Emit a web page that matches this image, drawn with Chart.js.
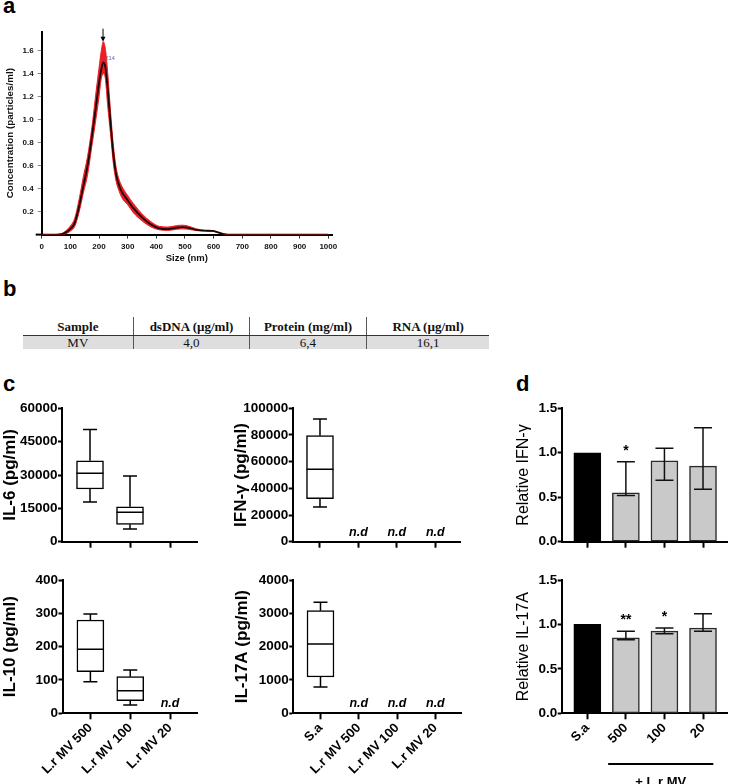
<!DOCTYPE html>
<html><head><meta charset="utf-8">
<script src="https://cdn.jsdelivr.net/npm/chart.js@4.4.1/dist/chart.umd.min.js"></script>
<style>
html,body{margin:0;padding:0;background:#fff;}
#wrap{position:relative;width:729px;height:784px;overflow:hidden;background:#fff;}
canvas.layer{position:absolute;left:0;top:0;}
.plabel{position:absolute;font:bold 22px 'Liberation Sans',Arial,sans-serif;line-height:22px;color:#000;}
#tbl{position:absolute;left:22.7px;top:317px;border-collapse:collapse;table-layout:fixed;font-family:'Liberation Serif','Times New Roman',serif;font-size:13px;color:#111;}
#tbl th{font-weight:bold;line-height:16px;padding:2px 0 0 0;text-align:center;border-bottom:1px solid #333;}
#tbl td{line-height:13px;padding:0;text-align:center;background:#dedede;}
#tbl .sep{border-left:1px solid #555;}
</style></head><body>
<div id="wrap">
  <div class="plabel" style="left:3px;top:-4.6px">a</div>
  <div class="plabel" style="left:3px;top:278px">b</div>
  <div class="plabel" style="left:3px;top:373px">c</div>
  <div class="plabel" style="left:516px;top:373px">d</div>
  <table id="tbl"><tbody></tbody></table>
  <canvas id="cA" class="layer" width="729" height="784"></canvas>
  <canvas id="cIL6" class="layer" width="729" height="784"></canvas>
  <canvas id="cIFN" class="layer" width="729" height="784"></canvas>
  <canvas id="cIL10" class="layer" width="729" height="784"></canvas>
  <canvas id="cIL17" class="layer" width="729" height="784"></canvas>
  <canvas id="cRIFN" class="layer" width="729" height="784"></canvas>
  <canvas id="cRIL17" class="layer" width="729" height="784"></canvas>
</div>
<script>
// ---------- DATA ----------
// panel a: nanoparticle size distribution
const nanoSizes = [0,50,70,85,100,115,130,145,160,175,190,200,208,215,222,230,240,250,260,270,280,300,320,350,380,410,440,470,490,510,540,570,595,615,635,660,1000];
const nanoMean  = [0,0,0.003,0.02,0.05,0.1,0.24,0.42,0.6,0.85,1.13,1.32,1.44,1.50,1.46,1.28,0.98,0.70,0.52,0.43,0.37,0.30,0.23,0.15,0.09,0.055,0.048,0.06,0.065,0.06,0.042,0.034,0.032,0.02,0.005,0,0];
const nanoUpper = [0,0,0.01,0.035,0.075,0.14,0.3,0.5,0.68,0.93,1.25,1.45,1.6,1.68,1.62,1.42,1.08,0.78,0.58,0.48,0.42,0.34,0.27,0.18,0.115,0.072,0.066,0.078,0.082,0.075,0.05,0.036,0.034,0.021,0.006,0,0];
const nanoLower = [0,0,0,0.008,0.03,0.07,0.19,0.36,0.52,0.77,1.02,1.2,1.36,1.40,1.36,1.13,0.88,0.62,0.46,0.38,0.32,0.26,0.19,0.12,0.068,0.042,0.036,0.046,0.05,0.047,0.035,0.031,0.03,0.018,0.004,0,0];
const nanoPeak = 214;
const nanoXTicks = [0,100,200,300,400,500,600,700,800,900,1000];
const nanoYTicks = [0.2,0.4,0.6,0.8,1.0,1.2,1.4,1.6];

// panel b: table
const tableHeaders = ['Sample','dsDNA (\u00b5g/ml)','Protein (mg/ml)','RNA (\u00b5g/ml)'];
const tableRow = ['MV','4,0','6,4','16,1'];

// panel c: box plots
const mvGroups = ['L.r MV 500','L.r MV 100','L.r MV 20'];
const saGroups = ['S.a','L.r MV 500','L.r MV 100','L.r MV 20'];
const il6Min = [17900, 5700, null];
const il6Q1 = [23700, 7800, null];
const il6Median = [30800, 13200, null];
const il6Q3 = [36400, 15700, null];
const il6Max = [50500, 29500, null];
const il6NotDetected = [false, false, false];
const il6Ticks = [0,15000,30000,45000,60000];
const ifngMin = [26000, null, null, null];
const ifngQ1 = [32250, null, null, null];
const ifngMedian = [54250, null, null, null];
const ifngQ3 = [79500, null, null, null];
const ifngMax = [92000, null, null, null];
const ifngNotDetected = [false, true, true, true];
const ifngTicks = [0,20000,40000,60000,80000,100000];
const il10Min = [95, 25, null];
const il10Q1 = [125, 38, null];
const il10Median = [192, 68, null];
const il10Q3 = [280, 110, null];
const il10Max = [298, 130, null];
const il10NotDetected = [false, false, true];
const il10Ticks = [0,100,200,300,400];
const il17Min = [790, null, null, null];
const il17Q1 = [1090, null, null, null];
const il17Median = [2080, null, null, null];
const il17Q3 = [3080, null, null, null];
const il17Max = [3330, null, null, null];
const il17NotDetected = [false, true, true, true];
const il17Ticks = [0,1000,2000,3000,4000];

// panel d: relative bars
const relGroups = ['S.a','500','100','20'];
const relIfngMean = [1.0, 0.55, 0.91, 0.85];
const relIfngLow  = [1.0, 0.52, 0.69, 0.59];
const relIfngHigh = [1.0, 0.90, 1.05, 1.28];
const relIfngSig  = ['', '*', '', ''];
const relIl17Mean = [1.0, 0.85, 0.925, 0.96];
const relIl17Low  = [1.0, 0.828, 0.896, 0.922];
const relIl17High = [1.0, 0.922, 0.959, 1.12];
const relIl17Sig  = ['', '**', '*', ''];
const relTicks = [0, 0.5, 1.0, 1.5];
const relBracketLabel = '+ L.r MV';

// ---------- RENDER ----------
const W = 729, H = 784;
const FF = "'Liberation Sans', Arial, Helvetica, sans-serif";

// table
(function(){
  const tb = document.querySelector('#tbl tbody');
  const widths = [110.3, 115, 116, 122.3];
  const tr1 = document.createElement('tr');
  tableHeaders.forEach((h,i)=>{ const th=document.createElement('th'); th.textContent=h; th.style.width=widths[i]+'px'; if(i>0) th.className='sep'; tr1.appendChild(th); });
  const tr2 = document.createElement('tr');
  tableRow.forEach((v,i)=>{ const td=document.createElement('td'); td.textContent=v; if(i>0) td.className='sep'; tr2.appendChild(td); });
  tb.appendChild(tr1); tb.appendChild(tr2);
})();

const nanoPlugin = {
  id: 'nanoExtras',
  afterDraw(chart) {
    const {ctx, chartArea} = chart;
    const xs = chart.scales.x;
    ctx.save();
    ctx.strokeStyle = '#000'; ctx.lineWidth = 2;
    ctx.beginPath(); ctx.moveTo(chartArea.left - 6, chartArea.bottom); ctx.lineTo(chartArea.left, chartArea.bottom); ctx.stroke();
    const px = xs.getPixelForValue(nanoPeak);
    ctx.lineWidth = 1;
    ctx.beginPath(); ctx.moveTo(px, chartArea.top - 3); ctx.lineTo(px, chartArea.top + 8); ctx.stroke();
    ctx.fillStyle = '#000';
    ctx.beginPath(); ctx.moveTo(px - 2.5, chartArea.top + 5); ctx.lineTo(px + 2.5, chartArea.top + 5); ctx.lineTo(px, chartArea.top + 10); ctx.closePath(); ctx.fill();
    ctx.fillStyle = '#5565b5';
    ctx.font = '5.5px ' + FF; ctx.textAlign = 'left'; ctx.textBaseline = 'middle';
    ctx.fillText(String(nanoPeak), px + 2.5, chartArea.top + 27);
    ctx.restore();
  }
};

const RED = 'rgb(236,30,36)';
new Chart(document.getElementById('cA'), {
  type: 'line',
  data: { datasets: [
    { data: nanoSizes.map((s,i)=>({x:s, y:nanoUpper[i]})), borderColor: RED, backgroundColor: RED, borderWidth: 1, pointRadius: 0, fill: '+1', cubicInterpolationMode: 'monotone', order: 2 },
    { data: nanoSizes.map((s,i)=>({x:s, y:nanoLower[i]})), borderColor: RED, backgroundColor: RED, borderWidth: 1, pointRadius: 0, fill: false, cubicInterpolationMode: 'monotone', order: 1 },
    { data: nanoSizes.map((s,i)=>({x:s, y:nanoMean[i]})), borderColor: '#1a0606', borderWidth: 1.8, pointRadius: 0, fill: false, cubicInterpolationMode: 'monotone', order: 0 }
  ]},
  plugins: [nanoPlugin],
  options: {
    responsive: false, animation: false, events: [],
    layout: { autoPadding: false, padding: { left: 4, top: 31.7, right: W - 332, bottom: H - 234.6 - 30 } },
    plugins: { legend: { display: false }, tooltip: { enabled: false } },
    scales: {
      x: { type: 'linear', min: 0, max: 1013, bounds: 'data',
        afterBuildTicks: s => { s.ticks = nanoXTicks.map(v => ({value: v})); },
        afterFit: s => { s.height = 30; s.paddingLeft = 0; s.paddingRight = 0; },
        ticks: { color: '#111', font: { family: FF, size: 8, weight: 'bold' }, padding: 3.3, maxRotation: 0, autoSkip: false, callback: v => String(v) },
        grid: { display: true, drawOnChartArea: false, tickLength: 4, tickColor: '#333', tickWidth: 1 },
        border: { display: true, color: '#000', width: 2 },
        title: { display: true, text: 'Size (nm)', color: '#111', font: { family: FF, size: 9.5, weight: 'bold' }, padding: { top: 0, bottom: 0.5 } }
      },
      y: { type: 'linear', min: 0, max: 1.767, bounds: 'data',
        afterBuildTicks: s => { s.ticks = nanoYTicks.map(v => ({value: v})); },
        afterFit: s => { s.width = 37.7; s.paddingTop = 0; s.paddingBottom = 0; },
        ticks: { color: '#111', font: { family: FF, size: 8, weight: 'bold' }, padding: 4, callback: v => v.toFixed(1) },
        grid: { display: true, drawOnChartArea: false, tickLength: 4, tickColor: '#888', tickWidth: 1 },
        border: { display: true, color: '#000', width: 2 },
        title: { display: true, text: 'Concentration (particles/ml)', color: '#111', font: { family: FF, size: 9.8, weight: 'bold' }, padding: { top: 0.3, bottom: 0 } }
      }
    }
  }
});

function boxPlugin(groups, mn, q1, med, q3, mx, nd) {
  return { id: 'boxWhiskers', afterDatasetsDraw(chart) {
    const {ctx} = chart; const xs = chart.scales.x, ys = chart.scales.y;
    const Y = v => ys.getPixelForValue(v);
    ctx.save(); ctx.strokeStyle = '#000'; ctx.lineWidth = 1.5;
    groups.forEach((g, i) => {
      const px = xs.getPixelForValue(i + 1);
      if (nd[i]) {
        ctx.fillStyle = '#000'; ctx.font = 'italic bold 12.5px ' + FF; ctx.textAlign = 'center'; ctx.textBaseline = 'alphabetic';
        ctx.fillText('n.d', px, Y(0) - 6);
      }
      if (med[i] == null) return;
      ctx.beginPath();
      ctx.moveTo(px, Y(mx[i])); ctx.lineTo(px, Y(q3[i]));
      ctx.moveTo(px, Y(q1[i])); ctx.lineTo(px, Y(mn[i]));
      ctx.moveTo(px - 7, Y(mx[i])); ctx.lineTo(px + 7, Y(mx[i]));
      ctx.moveTo(px - 7, Y(mn[i])); ctx.lineTo(px + 7, Y(mn[i]));
      ctx.moveTo(px - 13.5, Y(med[i])); ctx.lineTo(px + 13.5, Y(med[i]));
      ctx.stroke();
    });
    ctx.restore();
  }};
}

function errPlugin(lo, hi, sig) {
  return { id: 'errBars', afterDatasetsDraw(chart) {
    const {ctx} = chart; const xs = chart.scales.x, ys = chart.scales.y;
    ctx.save(); ctx.strokeStyle = '#111'; ctx.lineWidth = 1.5;
    lo.forEach((l, i) => {
      const px = xs.getPixelForValue(i + 1);
      const top = ys.getPixelForValue(hi[i]);
      const bot = ys.getPixelForValue(l);
      if (hi[i] > l) {
        ctx.beginPath();
        ctx.moveTo(px, bot); ctx.lineTo(px, top);
        ctx.moveTo(px - 9, top); ctx.lineTo(px + 9, top);
        ctx.moveTo(px - 9, bot); ctx.lineTo(px + 9, bot);
        ctx.stroke();
      }
      if (sig[i]) {
        ctx.fillStyle = '#000'; ctx.font = 'bold 14px ' + FF; ctx.textAlign = 'center'; ctx.textBaseline = 'alphabetic';
        ctx.fillText(sig[i], px, top - 7);
      }
    });
    ctx.restore();
  }};
}

const bracketPlugin = { id: 'bracket', afterDraw(chart) {
  const {ctx} = chart; const xs = chart.scales.x;
  const x1 = xs.getPixelForValue(2) - 17.7, x2 = xs.getPixelForValue(4) + 10.3;
  ctx.save(); ctx.strokeStyle = '#000'; ctx.lineWidth = 2;
  ctx.beginPath(); ctx.moveTo(x1, 764); ctx.lineTo(x2, 764); ctx.stroke();
  ctx.fillStyle = '#000'; ctx.font = 'bold 13px ' + FF; ctx.textAlign = 'center'; ctx.textBaseline = 'alphabetic';
  ctx.fillText(relBracketLabel, (x1 + x2) / 2, 786);
  ctx.restore();
}};

function makePanel(id, o) {
  const padding = { left: o.area.l - o.yW, top: o.area.t, right: W - o.area.r, bottom: H - o.area.b - o.xH };
  return new Chart(document.getElementById(id), {
    type: 'bar',
    data: { datasets: o.datasets },
    plugins: o.plugins,
    options: {
      responsive: false, animation: false, events: [],
      layout: { autoPadding: false, padding },
      plugins: { legend: { display: false }, tooltip: { enabled: false } },
      scales: {
        x: { type: 'linear', position: 'bottom', min: o.xMin, max: o.xMax, bounds: 'data', offset: false,
          afterBuildTicks: s => { s.ticks = o.groups.map((g, i) => ({value: i + 1})); },
          afterFit: s => { s.height = o.xH; s.paddingLeft = 0; s.paddingRight = 0; },
          ticks: { display: o.showX, autoSkip: false, minRotation: 45, maxRotation: 45, padding: 1, color: '#000',
            font: { family: FF, size: 13, weight: 'bold' }, callback: v => o.groups[Math.round(v) - 1] || '' },
          grid: { display: true, offset: false, drawOnChartArea: false, drawTicks: true, tickLength: 6, tickWidth: 2, tickColor: '#000' },
          border: { display: true, color: '#000', width: 2 }
        },
        y: { type: 'linear', position: 'left', min: o.yTicks[0], max: o.yTicks[o.yTicks.length - 1], bounds: 'data',
          afterBuildTicks: s => { s.ticks = o.yTicks.map(v => ({value: v})); },
          afterFit: s => { s.width = o.yW; s.paddingTop = 0; s.paddingBottom = 0; },
          ticks: { padding: 0.5, color: '#000', font: { family: FF, size: 13.5, weight: 'bold' }, callback: o.yFmt },
          grid: { display: true, drawOnChartArea: false, tickLength: 4, tickWidth: 2, tickColor: '#000' },
          border: { display: true, color: '#000', width: 2 },
          title: { display: true, text: o.yTitle, color: '#000', font: { family: FF, size: o.titleSize, weight: o.titleWeight }, padding: { top: 0, bottom: 0 } }
        }
      }
    }
  });
}

function boxDataset(q1, q3) {
  const pts = [];
  q1.forEach((v, i) => { if (v != null) pts.push({x: i + 1, y: [v, q3[i]]}); });
  return { data: pts, backgroundColor: '#fff', borderColor: '#000', borderWidth: 1.5, borderSkipped: false, barThickness: 27 };
}
const intFmt = v => String(v);
const decFmt = v => v.toFixed(1);

makePanel('cIL6', { area: {l: 62, t: 408.3, r: 197, b: 541.7}, yW: 62, xH: 10, groups: mvGroups, xMin: 0.3, xMax: 3.675,
  yTicks: il6Ticks, yFmt: intFmt, yTitle: 'IL-6 (pg/ml)', titleSize: 17, titleWeight: 'bold', showX: false,
  datasets: [boxDataset(il6Q1, il6Q3)], plugins: [boxPlugin(mvGroups, il6Min, il6Q1, il6Median, il6Q3, il6Max, il6NotDetected)] });

makePanel('cIFN', { area: {l: 292.7, t: 408.3, r: 461, b: 541.7}, yW: 62, xH: 10, groups: saGroups, xMin: 0.29, xMax: 4.669,
  yTicks: ifngTicks, yFmt: intFmt, yTitle: 'IFN-\u03b3 (pg/ml)', titleSize: 17, titleWeight: 'bold', showX: false,
  datasets: [boxDataset(ifngQ1, ifngQ3)], plugins: [boxPlugin(saGroups, ifngMin, ifngQ1, ifngMedian, ifngQ3, ifngMax, ifngNotDetected)] });

makePanel('cIL10', { area: {l: 62.5, t: 580, r: 197, b: 713.3}, yW: 62.5, xH: H - 713.3, groups: mvGroups, xMin: 0.3, xMax: 3.675,
  yTicks: il10Ticks, yFmt: intFmt, yTitle: 'IL-10 (pg/ml)', titleSize: 17, titleWeight: 'bold', showX: true,
  datasets: [boxDataset(il10Q1, il10Q3)], plugins: [boxPlugin(mvGroups, il10Min, il10Q1, il10Median, il10Q3, il10Max, il10NotDetected)] });

makePanel('cIL17', { area: {l: 293.3, t: 580, r: 461, b: 713.3}, yW: 61.3, xH: H - 713.3, groups: saGroups, xMin: 0.29, xMax: 4.669,
  yTicks: il17Ticks, yFmt: intFmt, yTitle: 'IL-17A (pg/ml)', titleSize: 17, titleWeight: 'bold', showX: true,
  datasets: [boxDataset(il17Q1, il17Q3)], plugins: [boxPlugin(saGroups, il17Min, il17Q1, il17Median, il17Q3, il17Max, il17NotDetected)] });

function relDataset(means) {
  return { data: means.map((m, i) => ({x: i + 1, y: m})),
    backgroundColor: means.map((m, i) => i === 0 ? '#000' : '#c9c9c9'),
    borderColor: means.map((m, i) => i === 0 ? '#000' : '#2a2a2a'),
    borderWidth: 1.5, borderSkipped: false, barThickness: 27 };
}

makePanel('cRIFN', { area: {l: 561.7, t: 408.3, r: 727, b: 541.7}, yW: 48, xH: 10, groups: relGroups, xMin: 0.336, xMax: 4.622,
  yTicks: relTicks, yFmt: decFmt, yTitle: 'Relative IFN-\u03b3', titleSize: 16, titleWeight: 'normal', showX: false,
  datasets: [relDataset(relIfngMean)], plugins: [errPlugin(relIfngLow, relIfngHigh, relIfngSig)] });

makePanel('cRIL17', { area: {l: 561.7, t: 580, r: 727, b: 713.3}, yW: 48, xH: H - 713.3, groups: relGroups, xMin: 0.336, xMax: 4.622,
  yTicks: relTicks, yFmt: decFmt, yTitle: 'Relative IL-17A', titleSize: 16, titleWeight: 'normal', showX: true,
  datasets: [relDataset(relIl17Mean)], plugins: [errPlugin(relIl17Low, relIl17High, relIl17Sig), bracketPlugin] });
</script>
</body></html>
